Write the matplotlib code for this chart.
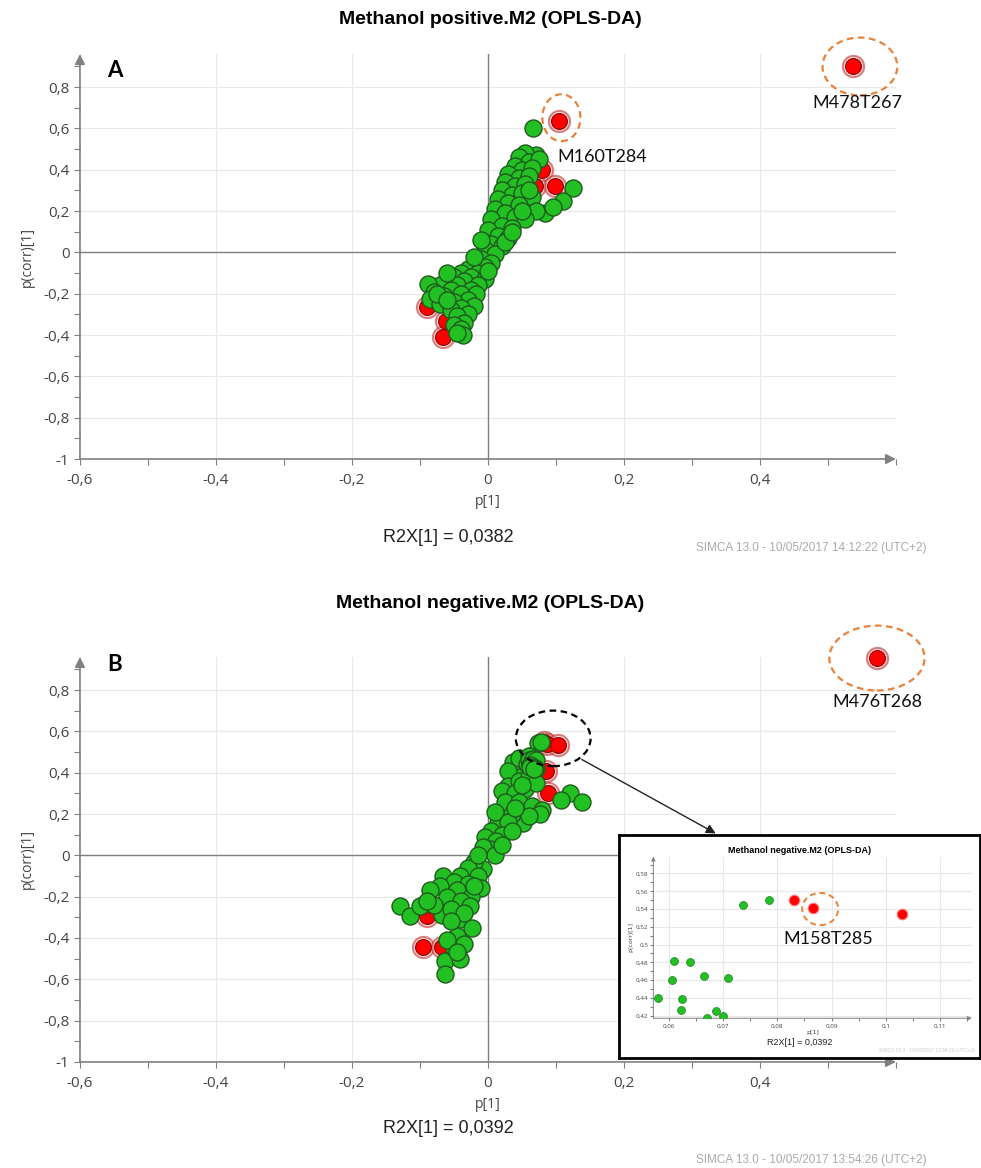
import numpy as np
import matplotlib
matplotlib.use("Agg")
import matplotlib.pyplot as plt
from matplotlib.ticker import MultipleLocator, FixedLocator, FuncFormatter
from matplotlib.patches import Ellipse

# --- DATA ---
# panel A: Methanol positive
a_green_x = [0.066, 0.07, 0.055, 0.045, 0.06, 0.075, 0.04, 0.05, 0.065, 0.03, 0.045, 0.06,
             0.025, 0.04, 0.055, 0.02, 0.035, 0.05, 0.065, 0.125, 0.11, 0.084, 0.095, 0.07,
             0.015, 0.03, 0.045, 0.01, 0.025, 0.04, 0.055, 0.005, 0.02, 0.035, 0.0, 0.015,
             0.03, 0.005, 0.02, -0.005, 0.01, -0.01, 0.005, -0.02, -0.005,
             -0.03, -0.015, -0.04, -0.025, -0.05, -0.005, -0.035, -0.06, -0.015, -0.045,
             -0.07, -0.088, -0.025, -0.055, -0.08, -0.017, -0.04, -0.065, -0.085, -0.03,
             -0.05, -0.07, -0.02, -0.04, -0.055, -0.03, -0.045, -0.035, -0.05, -0.04,
             -0.037, -0.045,
             0.025, -0.01, 0.035, -0.02, 0.0, -0.06, 0.05, 0.06, -0.075, -0.06]
a_green_y = [0.60, 0.47, 0.48, 0.46, 0.44, 0.45, 0.42, 0.40, 0.41, 0.38, 0.36, 0.37,
             0.34, 0.32, 0.33, 0.30, 0.28, 0.29, 0.27, 0.31, 0.25, 0.19, 0.22, 0.20,
             0.26, 0.24, 0.23, 0.21, 0.19, 0.17, 0.16, 0.16, 0.13, 0.12, 0.11, 0.08,
             0.07, 0.04, 0.03, 0.01, -0.01, -0.03, -0.05, -0.05, -0.07,
             -0.08, -0.10, -0.10, -0.12, -0.12, -0.13, -0.14, -0.14, -0.16, -0.16,
             -0.16, -0.155, -0.18, -0.18, -0.19, -0.20, -0.20, -0.21, -0.227, -0.23,
             -0.24, -0.25, -0.26, -0.27, -0.28, -0.30, -0.31, -0.34, -0.35, -0.37,
             -0.40, -0.39,
             0.05, 0.06, 0.10, -0.02, -0.09, -0.10, 0.20, 0.30, -0.20, -0.23]
a_red_x = [0.105, 0.537, 0.08, 0.069, 0.0985, -0.09, -0.061, -0.066]
a_red_y = [0.634, 0.90, 0.40, 0.32, 0.32, -0.266, -0.33, -0.41]

# panel B: Methanol negative
b_green_x = [0.064, 0.052, 0.037, 0.045, 0.058, 0.07, 0.03, 0.03, 0.045, 0.06, 0.02, 0.04,
             0.055, 0.07, 0.025, 0.045, 0.065, 0.08, 0.076, 0.052, 0.015, 0.035, 0.01,
             0.03, 0.06, 0.12, 0.138, 0.108, 0.005, 0.02, -0.005, 0.012, 0.003, -0.008,
             0.01, -0.007, -0.02, -0.03, -0.041, -0.066, -0.015, -0.05, -0.03, -0.07,
             -0.01, -0.045, -0.085, -0.06, -0.025, -0.04, -0.129, -0.115, -0.1, -0.068,
             -0.026, -0.041, -0.024, -0.046, -0.055, -0.08, -0.035, -0.063, -0.063,
             -0.041, -0.05, -0.035, -0.06, -0.045,
             0.02, -0.015, 0.035, 0.05, 0.04, -0.02, -0.055, -0.09,
             0.0737, 0.0785, 0.061, 0.0607, 0.0665, 0.071, 0.0625, 0.0623, 0.0688, 0.067]
b_green_y = [0.48, 0.415, 0.45, 0.47, 0.44, 0.42, 0.41, 0.335, 0.36, 0.38, 0.31, 0.30,
             0.32, 0.35, 0.256, 0.26, 0.24, 0.22, 0.198, 0.158, 0.158, 0.20, 0.21,
             0.16, 0.19, 0.30, 0.26, 0.27, 0.12, 0.10, 0.09, 0.07, 0.03, 0.04,
             0.0, -0.068, -0.03, -0.06, -0.10, -0.10, -0.10, -0.13, -0.14, -0.15,
             -0.16, -0.17, -0.17, -0.20, -0.20, -0.22, -0.245, -0.293, -0.245, -0.29,
             -0.245, -0.31, -0.35, -0.39, -0.26, -0.24, -0.28, -0.51, -0.575,
             -0.50, -0.45, -0.43, -0.41, -0.47,
             0.05, 0.0, 0.12, 0.34, 0.23, -0.15, -0.32, -0.22,
             0.544, 0.550, 0.481, 0.460, 0.465, 0.462, 0.439, 0.426, 0.425, 0.417]
b_red_x = [0.083, 0.0865, 0.103, 0.086, 0.089, -0.09, -0.095, -0.068, 0.572]
b_red_y = [0.550, 0.541, 0.534, 0.407, 0.30, -0.293, -0.446, -0.445, 0.955]

x_ticks = [-0.6, -0.4, -0.2, 0.0, 0.2, 0.4]

GREEN = "#22c022"
GREEN_EDGE = "#1f5a1f"
RED = "#ff0000"
RED_EDGE = "#8a0000"
AXC = "#808080"
TXT = "#444444"

comma = FuncFormatter(lambda v, p: ("%g" % round(v, 4)).replace(".", ","))


def style_axes(ax, xlim, ylim, xmaj, xmin, ymaj, ymin, fs, tl, lw=1.2, ms=15):
    ax.set_xlim(*xlim)
    ax.set_ylim(*ylim)
    for s in ax.spines.values():
        s.set_visible(False)
    if isinstance(xmaj, list):
        ax.xaxis.set_major_locator(FixedLocator(xmaj))
    else:
        ax.xaxis.set_major_locator(MultipleLocator(xmaj))
    ax.xaxis.set_minor_locator(MultipleLocator(xmin))
    ax.yaxis.set_major_locator(MultipleLocator(ymaj))
    ax.yaxis.set_minor_locator(MultipleLocator(ymin))
    ax.xaxis.set_major_formatter(comma)
    ax.yaxis.set_major_formatter(comma)
    ax.tick_params(which="both", direction="out", color=AXC, labelsize=fs,
                   labelcolor=TXT, length=tl, width=0.8)
    ax.tick_params(axis="x", pad=tl * 1.6)
    ax.grid(True, which="major", color="#e8e8e8", lw=0.8, zorder=0)
    ax.set_axisbelow(True)
    # arrow-style axes
    ax.annotate("", xy=(1.0, 0), xytext=(0, 0), xycoords="axes fraction",
                arrowprops=dict(arrowstyle="-|>", color=AXC, lw=lw, mutation_scale=ms,
                                shrinkA=0, shrinkB=0))
    ax.annotate("", xy=(0, 1.0), xytext=(0, 0), xycoords="axes fraction",
                arrowprops=dict(arrowstyle="-|>", color=AXC, lw=lw, mutation_scale=ms,
                                shrinkA=0, shrinkB=0))
    for lab in ax.get_xticklabels() + ax.get_yticklabels():
        lab.set_fontfamily("Open Sans")


def draw_points(ax, gx, gy, rx, ry, s_g, s_r, halo):
    ax.scatter(rx, ry, s=s_r * halo, facecolor=(1, 0.75, 0.75, 0.5),
               edgecolor=(0.75, 0.2, 0.2, 0.6), lw=1.5, zorder=3, clip_on=False)
    ax.scatter(rx, ry, s=s_r, color=RED, edgecolor=RED_EDGE, lw=0.8, zorder=3, clip_on=False)
    ax.scatter(gx, gy, s=s_g, color=GREEN, edgecolor=GREEN_EDGE, lw=1.0, zorder=4)


fig = plt.figure(figsize=(9.81, 11.68), dpi=100)

axA = fig.add_axes([0.0815, 0.607, 0.8318, 0.3467])
axB = fig.add_axes([0.0815, 0.0908, 0.8318, 0.3467])

for ax in (axA, axB):
    style_axes(ax, (-0.6, 0.6), (-1.0, 0.96), x_ticks, 0.1, 0.2, 0.1, 11, 4)
    ax.axhline(0, color=AXC, lw=1.0, zorder=1)
    ax.axvline(0, color=AXC, lw=1.0, zorder=1)
    ax.set_xlabel("p[1]", fontsize=10, color=TXT, family="Open Sans", labelpad=4)
    ax.set_ylabel("p(corr)[1]", fontsize=10, color=TXT, family="Open Sans", labelpad=6)

draw_points(axA, a_green_x, a_green_y, a_red_x, a_red_y, 150, 130, 1.8)
draw_points(axB, b_green_x, b_green_y, b_red_x, b_red_y, 150, 130, 1.8)

# annotations panel A
axA.add_patch(Ellipse((0.108, 0.652), 0.056, 0.227, fill=False, ec="#e8823a",
                      ls=(0, (3, 2)), lw=1.6, zorder=5))
axA.add_patch(Ellipse((0.547, 0.90), 0.11, 0.28, fill=False, ec="#e8823a",
                      ls=(0, (3, 2)), lw=1.6, zorder=5, clip_on=False))
axA.text(0.1015, 0.46, "M160T284", fontsize=13, family="Lato", ha="left", va="center",
         color="#111111", zorder=6)
axA.text(0.544, 0.725, "M478T267", fontsize=13, family="Lato", ha="center", va="center",
         color="#111111", zorder=6, clip_on=False)

# annotations panel B
axB.add_patch(Ellipse((0.572, 0.955), 0.14, 0.314, fill=False, ec="#e8823a",
                      ls=(0, (3, 2)), lw=1.6, zorder=5, clip_on=False))
axB.text(0.572, 0.74, "M476T268", fontsize=13, family="Lato", ha="center", va="center",
         color="#111111", zorder=6, clip_on=False)
axB.add_patch(Ellipse((0.096, 0.566), 0.110, 0.269, fill=False, ec="black",
                      ls=(0, (3, 2)), lw=1.6, zorder=5))
axB.annotate("", xy=(0.335, 0.106), xytext=(0.138, 0.464),
             arrowprops=dict(arrowstyle="-|>", color="#222222", lw=1.0,
                             mutation_scale=14, shrinkA=0, shrinkB=0),
             annotation_clip=False, zorder=6)

# titles and captions
fig.text(0.4995, 0.9829, "Methanol positive.M2 (OPLS-DA)", fontsize=14, weight="bold",
         family="Liberation Sans", ha="center", va="center")
fig.text(0.4995, 0.4837, "Methanol negative.M2 (OPLS-DA)", fontsize=14, weight="bold",
         family="Liberation Sans", ha="center", va="center")
fig.text(0.117, 0.940, "A", fontsize=16, weight="bold", family="Lato", ha="center", va="center")
fig.text(0.117, 0.4307, "B", fontsize=16, weight="bold", family="Lato", ha="center", va="center")
fig.text(0.4567, 0.5402, "R2X[1] = 0,0382", fontsize=13, family="Liberation Sans",
         ha="center", va="center", color="#222222")
fig.text(0.4567, 0.034, "R2X[1] = 0,0392", fontsize=13, family="Liberation Sans",
         ha="center", va="center", color="#222222")
fig.text(0.8267, 0.5308, "SIMCA 13.0 - 10/05/2017 14:12:22 (UTC+2)", fontsize=8.5,
         family="Liberation Sans", ha="center", va="center", color="#aaaaaa")
fig.text(0.8267, 0.0068, "SIMCA 13.0 - 10/05/2017 13:54:26 (UTC+2)", fontsize=8.5,
         family="Liberation Sans", ha="center", va="center", color="#aaaaaa")

# zoom inset in panel B
box = fig.add_axes([0.631, 0.0942, 0.368, 0.1909], zorder=5)
box.set_xticks([])
box.set_yticks([])
box.set_facecolor("white")
for s in box.spines.values():
    s.set_color("black")
    s.set_linewidth(2)
box.text(0.5, 0.93, "Methanol negative.M2 (OPLS-DA)", transform=box.transAxes,
         fontsize=6.5, weight="bold", family="Liberation Sans", ha="center", va="center")

ins = fig.add_axes([0.666, 0.1282, 0.3246, 0.1384], zorder=6)
ins.set_facecolor("none")
style_axes(ins, (0.0572, 0.1158), (0.417, 0.599), 0.01, 0.005, 0.02, 0.01, 4.5, 2,
           lw=0.7, ms=6)
ins.tick_params(axis="x", pad=2)
ins.tick_params(axis="y", pad=1.5)
ins.scatter(b_green_x, b_green_y, s=32, color=GREEN, edgecolor="#2a8a2a", lw=0.6, zorder=4)
ins.scatter(b_red_x, b_red_y, s=58, color=RED, edgecolor=(1, 0.5, 0.5), lw=0.8, zorder=4)
ins.set_xlabel("p[1]", fontsize=4.5, color=TXT, labelpad=1)
ins.set_ylabel("p(corr)[1]", fontsize=4.5, color=TXT, labelpad=2)
ins.add_patch(Ellipse((0.0879, 0.540), 0.00663, 0.0363, fill=False, ec="#e8823a",
                      ls=(0, (3, 2)), lw=1.4, zorder=5))
ins.text(0.0894, 0.5067, "M158T285", fontsize=13, family="Lato", ha="center",
         va="center", color="#111111", zorder=6)
box.text(0.5, 0.07, "R2X[1] = 0,0392", transform=box.transAxes, fontsize=6.5,
         family="Liberation Sans", ha="center", va="center", color="#222222")
box.text(0.985, 0.035, "SIMCA 13.0 - 10/05/2017 13:54:26 (UTC+2)", transform=box.transAxes,
         fontsize=3.5, family="Liberation Sans", ha="right", va="center", color="#cccccc")

fig.savefig("out.png", dpi=100)
